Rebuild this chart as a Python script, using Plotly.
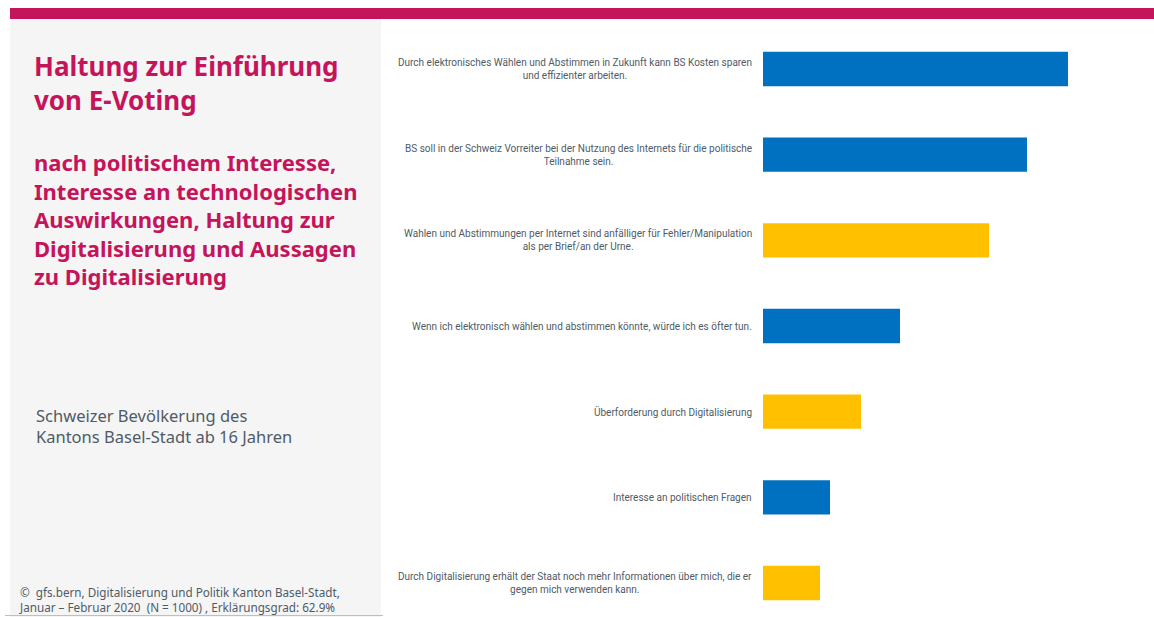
import plotly.graph_objects as go

W, H = 1154, 617

categories = [
    "Durch elektronisches Wählen und Abstimmen in Zukunft kann BS Kosten sparen<br>und effizienter arbeiten.",
    "BS soll in der Schweiz Vorreiter bei der Nutzung des Internets für die politische<br>Teilnahme sein.",
    "Wahlen und Abstimmungen per Internet sind anfälliger für Fehler/Manipulation<br>als per Brief/an der Urne.",
    "Wenn ich elektronisch wählen und abstimmen könnte, würde ich es öfter tun.",
    "Überforderung durch Digitalisierung",
    "Interesse an politischen Fragen",
    "Durch Digitalisierung erhält der Staat noch mehr Informationen über mich, die er<br>gegen mich verwenden kann.",
]
values = [30.5, 26.4, 22.6, 13.7, 9.8, 6.7, 5.7]
bar_colors = ["#0070C0", "#0070C0", "#FFC000", "#0070C0", "#FFC000", "#0070C0", "#FFC000"]

title_main = "Haltung zur Einführung<br>von E-Voting"
title_sub = ("nach politischem Interesse,<br>Interesse an technologischen<br>Auswirkungen, Haltung zur"
             "<br>Digitalisierung und Aussagen<br>zu Digitalisierung")
population = "Schweizer Bevölkerung des<br>Kantons Basel-Stadt ab 16 Jahren"
source = ("©  gfs.bern, Digitalisierung und Politik Kanton Basel-Stadt,<br>"
          "Januar – Februar 2020  (N = 1000) , Erklärungsgrad: 62.9%")

MAGENTA = "#C4145A"
TEXT_GREY = "#4F5B66"

def px(x):
    return x / W

def py(y):
    return 1 - y / H

fig = go.Figure(go.Bar(
    x=values, y=categories, orientation="h",
    marker=dict(color=bar_colors, line=dict(width=0)),
    width=0.4, hoverinfo="skip",
))

annotations = []
for c in categories:
    annotations.append(dict(
        x=0, y=c, xref="x", yref="y", text=c, showarrow=False,
        xanchor="right", yanchor="middle", align="center", xshift=-9,
        font=dict(family="Roboto", size=10, color=TEXT_GREY),
    ))

annotations += [
    dict(x=px(32), y=py(46), xref="paper", yref="paper", text="<b>" + title_main + "</b>",
         showarrow=False, xanchor="left", yanchor="top", align="left",
         font=dict(family="Noto Sans", size=26, color=MAGENTA)),
    dict(x=px(32), y=py(145), xref="paper", yref="paper", text="<b>" + title_sub + "</b>",
         showarrow=False, xanchor="left", yanchor="top", align="left",
         font=dict(family="Noto Sans", size=22, color=MAGENTA)),
    dict(x=px(34), y=py(402), xref="paper", yref="paper", text=population,
         showarrow=False, xanchor="left", yanchor="top", align="left",
         font=dict(family="Noto Sans", size=16.5, color=TEXT_GREY)),
    dict(x=px(17), y=py(582), xref="paper", yref="paper", text=source,
         showarrow=False, xanchor="left", yanchor="top", align="left",
         font=dict(family="Noto Sans", size=11.7, color=TEXT_GREY)),
]

shapes = [
    dict(type="rect", xref="paper", yref="paper", x0=px(10), x1=px(381), y0=0, y1=py(19),
         fillcolor="#F5F5F5", line=dict(width=0), layer="below"),
    dict(type="rect", xref="paper", yref="paper", x0=px(10), x1=1, y0=py(19), y1=py(8),
         fillcolor=MAGENTA, line=dict(width=0), layer="below"),
    dict(type="line", xref="paper", yref="paper", x0=px(5), x1=px(383), y0=py(615.5), y1=py(615.5),
         line=dict(color="#BFBFBF", width=1)),
]

# category centres in page pixels: first at 69, last at 583
step = (583 - 69) / 6
y_top = -69 / step
y_bot = (H - 69) / step

fig.update_layout(
    width=W, height=H, margin=dict(l=0, r=0, t=0, b=0),
    paper_bgcolor="white", plot_bgcolor="white", showlegend=False,
    xaxis=dict(domain=[px(763), 1], range=[0, 39.1], visible=False, fixedrange=True),
    yaxis=dict(domain=[0, 1], type="category", categoryorder="array", categoryarray=categories,
               range=[y_bot, y_top], visible=False, fixedrange=True),
    annotations=annotations, shapes=shapes,
)

fig.write_html(
    "out.html",
    config={"displayModeBar": False},
    post_script="document.body.style.margin='0';document.body.style.overflow='hidden';",
)
